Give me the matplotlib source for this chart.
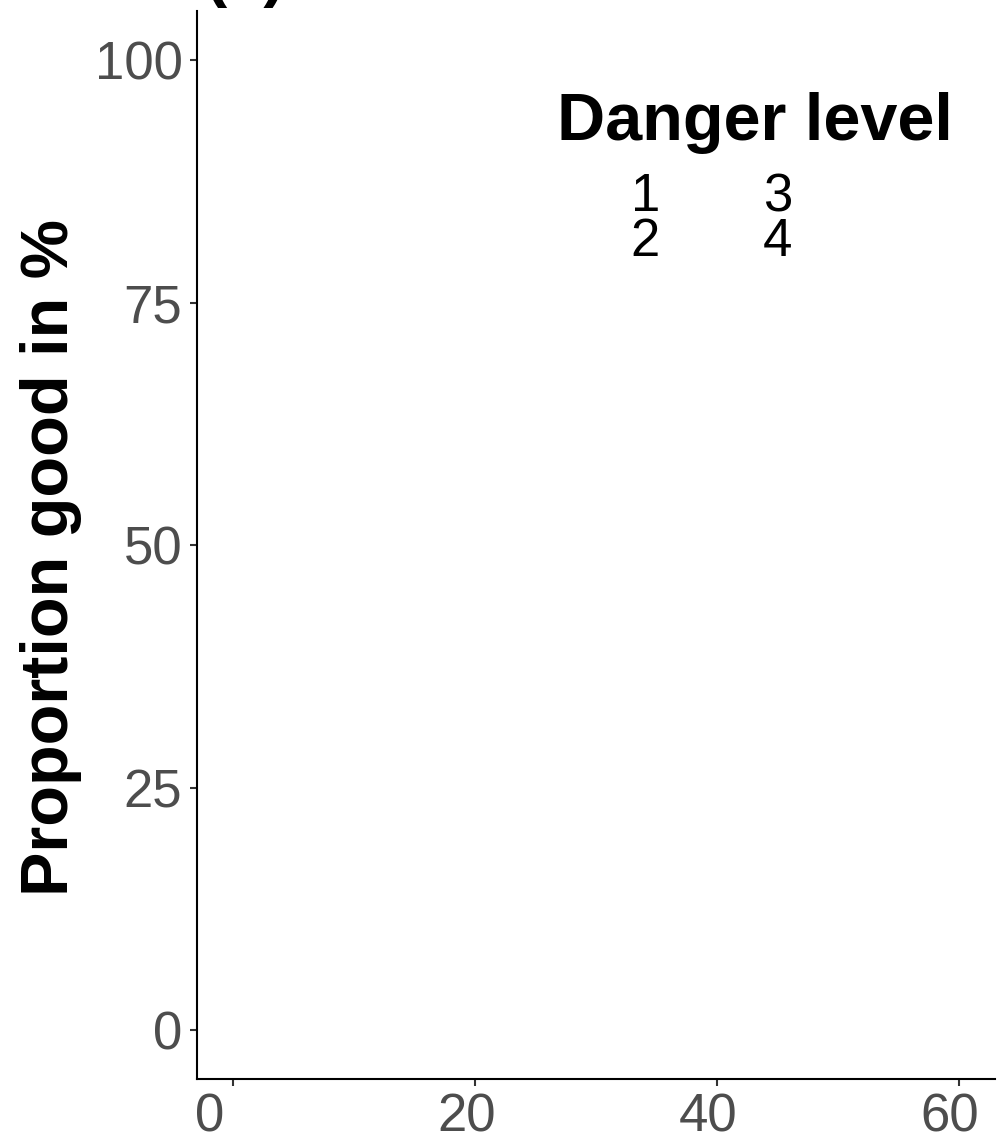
import matplotlib
matplotlib.use("Agg")
import matplotlib.pyplot as plt
from matplotlib.transforms import ScaledTranslation

# ---- data (the panel contains no plotted observations) ----
danger_levels = ["1", "2", "3", "4"]
x_ticks = [0, 20, 40, 60]
y_ticks = [0, 25, 50, 75, 100]
x_limits = (-3, 63)
y_limits = (-5, 105)
obs_x = {lvl: [] for lvl in danger_levels}
obs_y = {lvl: [] for lvl in danger_levels}

plt.rcParams['font.family'] = ['Liberation Sans', 'DejaVu Sans']

W, H = 999, 1141
fig = plt.figure(figsize=(W / 100, H / 100), dpi=100)
fig.patch.set_facecolor('white')

left_px, right_px, bottom_px, top_px = 197, 995, 1079, 11.4
ax = fig.add_axes([left_px / W, 1 - bottom_px / H,
                   (right_px - left_px) / W, (bottom_px - top_px) / H])

handles = []
for lvl in danger_levels:
    h, = ax.plot(obs_x[lvl], obs_y[lvl], linestyle='none', marker='o',
                 markersize=0, label=lvl)
    handles.append(h)

ax.set_xlim(*x_limits)
ax.set_ylim(*y_limits)
ax.set_xticks(x_ticks)
ax.set_yticks(y_ticks)
ax.set_xticklabels([str(v) for v in x_ticks])
ax.set_yticklabels([str(v) for v in y_ticks])

for s in ['top', 'right']:
    ax.spines[s].set_visible(False)
for s in ['left', 'bottom']:
    ax.spines[s].set_linewidth(1.5)
    ax.spines[s].set_color('black')

ax.tick_params(axis='both', length=5, width=1.5, color='#333333',
               labelsize=38, labelcolor='#4D4D4D')
ax.tick_params(axis='y', pad=5.5)
ax.tick_params(axis='x', pad=4.5)

shift = ScaledTranslation(-38 / 100, 0, fig.dpi_scale_trans)
for lab in ax.get_xticklabels():
    lab.set_horizontalalignment('left')
    lab.set_transform(lab.get_transform() + shift)

ax.set_ylabel('Proportion good in %', fontsize=48, fontweight='bold',
              labelpad=0)
ax.yaxis.set_label_coords((82 - left_px) / (right_px - left_px),
                          (bottom_px - 557) / (bottom_px - top_px))

fig.text(205 / W, 1 + 6 / H, '(a)', fontsize=48, fontweight='bold',
         ha='left', va='baseline')

# legend title and entries
fig.text(557 / W, 1 - 140 / H, 'Danger level', fontsize=48,
         fontweight='bold', ha='left', va='baseline')

leg = ax.legend(handles=handles, ncol=2,
                frameon=False, loc='upper left',
                bbox_to_anchor=(558 / W, 1 - 172 / H),
                bbox_transform=fig.transFigure,
                fontsize=38, borderpad=0, borderaxespad=0,
                handlelength=1.0, handletextpad=0.38, columnspacing=0.56,
                labelspacing=-0.09)

fig.savefig('out.png', dpi=100, facecolor='white')
